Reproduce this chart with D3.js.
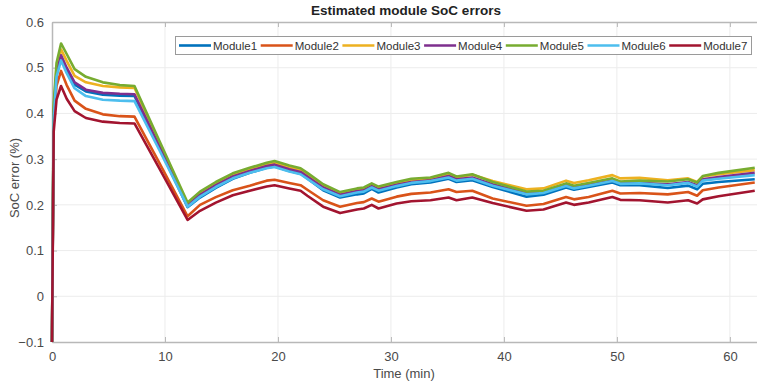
<!DOCTYPE html>
<html>
<head>
<meta charset="utf-8">
<script src="https://cdn.jsdelivr.net/npm/d3@7"></script>
<style>
  body { margin: 0; background: #fff; }
  text { font-family: "Liberation Sans", Arial, sans-serif; }
</style>
</head>
<body>
<div id="chart"></div>
<script>
// Datos
const times = [0, 0.15, 0.4, 0.8, 1.3, 2, 3, 4.5, 6, 7.3, 9.5, 12, 13.1, 14.5, 16, 17.5, 19, 19.7, 21, 22, 22.6, 24, 25.5, 27, 27.6, 28.3, 28.9, 30.5, 31.8, 33.5, 35.1, 35.8, 37.2, 39, 42, 43.5, 45.5, 46.2, 47.5, 49.6, 50.3, 52, 54.5, 56.3, 57.1, 57.6, 59, 62.2];

const module1 = [-0.1, 0.40, 0.485, 0.522, 0.495, 0.463, 0.448, 0.441, 0.439, 0.438, 0.325, 0.195, 0.216, 0.237, 0.257, 0.270, 0.281, 0.284, 0.274, 0.268, 0.258, 0.232, 0.216, 0.223, 0.225, 0.235, 0.227, 0.238, 0.245, 0.249, 0.257, 0.250, 0.254, 0.239, 0.218, 0.222, 0.238, 0.233, 0.239, 0.249, 0.243, 0.243, 0.237, 0.242, 0.234, 0.246, 0.250, 0.256];
const module2 = [-0.1, 0.38, 0.46, 0.493, 0.462, 0.428, 0.410, 0.398, 0.394, 0.393, 0.292, 0.175, 0.200, 0.217, 0.232, 0.242, 0.253, 0.255, 0.248, 0.243, 0.233, 0.210, 0.196, 0.204, 0.206, 0.214, 0.207, 0.218, 0.224, 0.227, 0.234, 0.228, 0.231, 0.214, 0.198, 0.202, 0.217, 0.212, 0.217, 0.231, 0.225, 0.226, 0.223, 0.228, 0.220, 0.232, 0.238, 0.249];
const module3 = [-0.1, 0.41, 0.50, 0.540, 0.515, 0.482, 0.468, 0.460, 0.457, 0.456, 0.335, 0.200, 0.225, 0.246, 0.265, 0.277, 0.288, 0.292, 0.282, 0.276, 0.266, 0.242, 0.225, 0.233, 0.235, 0.244, 0.237, 0.247, 0.254, 0.258, 0.267, 0.260, 0.266, 0.252, 0.234, 0.236, 0.253, 0.248, 0.254, 0.265, 0.258, 0.259, 0.254, 0.258, 0.250, 0.262, 0.267, 0.276];
const module4 = [-0.1, 0.40, 0.49, 0.527, 0.500, 0.468, 0.452, 0.445, 0.443, 0.442, 0.328, 0.198, 0.222, 0.243, 0.262, 0.274, 0.285, 0.288, 0.278, 0.272, 0.262, 0.238, 0.222, 0.230, 0.232, 0.241, 0.234, 0.244, 0.250, 0.254, 0.263, 0.256, 0.260, 0.245, 0.226, 0.228, 0.243, 0.238, 0.244, 0.253, 0.247, 0.248, 0.245, 0.250, 0.243, 0.256, 0.261, 0.270];
const module5 = [-0.1, 0.42, 0.51, 0.553, 0.530, 0.497, 0.480, 0.468, 0.462, 0.460, 0.340, 0.205, 0.229, 0.250, 0.269, 0.281, 0.292, 0.296, 0.286, 0.280, 0.270, 0.245, 0.228, 0.236, 0.238, 0.247, 0.240, 0.250, 0.257, 0.260, 0.270, 0.262, 0.267, 0.250, 0.229, 0.231, 0.247, 0.242, 0.248, 0.258, 0.251, 0.253, 0.251, 0.256, 0.249, 0.263, 0.270, 0.281];
const module6 = [-0.1, 0.39, 0.48, 0.516, 0.488, 0.455, 0.438, 0.430, 0.428, 0.427, 0.320, 0.196, 0.218, 0.239, 0.258, 0.270, 0.280, 0.283, 0.273, 0.267, 0.257, 0.234, 0.219, 0.227, 0.229, 0.238, 0.231, 0.241, 0.248, 0.252, 0.260, 0.253, 0.257, 0.242, 0.223, 0.226, 0.241, 0.236, 0.242, 0.252, 0.246, 0.247, 0.243, 0.248, 0.240, 0.253, 0.257, 0.265];
const module7 = [-0.1, 0.36, 0.43, 0.460, 0.432, 0.405, 0.390, 0.382, 0.379, 0.378, 0.280, 0.167, 0.187, 0.205, 0.221, 0.231, 0.240, 0.243, 0.236, 0.231, 0.220, 0.196, 0.182, 0.190, 0.192, 0.200, 0.192, 0.203, 0.208, 0.210, 0.216, 0.210, 0.216, 0.204, 0.187, 0.190, 0.205, 0.200, 0.205, 0.217, 0.211, 0.210, 0.205, 0.210, 0.203, 0.212, 0.219, 0.231];

const seriesNames = ['Module1', 'Module2', 'Module3', 'Module4', 'Module5', 'Module6', 'Module7'];
const seriesValues = [module1, module2, module3, module4, module5, module6, module7];
const seriesColors = ['#0072BD', '#D95319', '#EDB120', '#7E2F8E', '#77AC30', '#4DBEEE', '#A2142F'];

const xTicks = [0, 10, 20, 30, 40, 50, 60];
const yTicks = [-0.1, 0, 0.1, 0.2, 0.3, 0.4, 0.5, 0.6];

///Medidas
const W = 757, H = 384;
const margin = {top: 22, right: 0, bottom: 42, left: 52};

let svg = d3.select('#chart')
    .append('svg')
    .attr('width', W)
    .attr('height', H);

let x = d3.scaleLinear()
    .domain([0, 62.4])
    .range([margin.left, W - margin.right]);

let y = d3.scaleLinear()
    .domain([-0.1, 0.6])
    .range([H - margin.bottom, margin.top]);

//Rejilla
let grid = svg.append('g').attr('class', 'grid');
grid.selectAll('.gx')
    .data(xTicks.filter(d => d > 0))
    .enter().append('line')
    .attr('x1', d => x(d)).attr('x2', d => x(d))
    .attr('y1', y(-0.1)).attr('y2', y(0.6))
    .attr('stroke', '#ececec').attr('stroke-width', 1);
grid.selectAll('.gy')
    .data(yTicks.filter(d => d > -0.1 && d < 0.6))
    .enter().append('line')
    .attr('x1', x(0)).attr('x2', W)
    .attr('y1', d => y(d)).attr('y2', d => y(d))
    .attr('stroke', '#ececec').attr('stroke-width', 1);

//Ejes
let xAxis = svg.append('g')
    .attr('transform', 'translate(0,' + y(-0.1) + ')')
    .call(d3.axisBottom(x).tickValues(xTicks).tickSizeInner(-5).tickSizeOuter(0).tickPadding(10));

let xAxisTop = svg.append('g')
    .attr('transform', 'translate(0,' + y(0.6) + ')')
    .call(d3.axisTop(x).tickValues(xTicks).tickSizeInner(-5).tickSizeOuter(0).tickFormat(''));

let yAxis = svg.append('g')
    .attr('transform', 'translate(' + x(0) + ',0)')
    .call(d3.axisLeft(y).tickValues(yTicks).tickSizeInner(-5).tickSizeOuter(0).tickPadding(8)
        .tickFormat(d => d === 0 ? '0' : d3.format('.1f')(d)));

[xAxis, xAxisTop, yAxis].forEach(function(g) {
    g.select('.domain').attr('stroke', '#b8b8b8').attr('stroke-width', 1.5);
    g.selectAll('.tick line').attr('stroke', '#b8b8b8');
    g.selectAll('.tick text')
        .attr('fill', '#4a4a4a')
        .style('font-size', '13px');
});

//Líneas
let line = d3.line()
    .x((d, i) => x(times[i]))
    .y(d => y(d));

svg.append('g')
    .selectAll('path')
    .data(seriesValues)
    .enter().append('path')
    .attr('d', d => line(d))
    .attr('fill', 'none')
    .attr('stroke', (d, i) => seriesColors[i])
    .attr('stroke-width', 2.6)
    .attr('stroke-linejoin', 'round');

//Títulos
svg.append('text')
    .attr('x', 406).attr('y', 15)
    .attr('text-anchor', 'middle')
    .style('font-size', '13.5px').style('font-weight', 'bold')
    .attr('fill', '#222')
    .text('Estimated module SoC errors');

svg.append('text')
    .attr('x', 404).attr('y', 378)
    .attr('text-anchor', 'middle')
    .style('font-size', '13px')
    .attr('fill', '#4a4a4a')
    .text('Time (min)');

svg.append('text')
    .attr('transform', 'translate(19,178) rotate(-90)')
    .attr('text-anchor', 'middle')
    .style('font-size', '13px')
    .attr('fill', '#4a4a4a')
    .text('SoC error (%)');

//Leyenda
let legend = svg.append('g');
legend.append('rect')
    .attr('x', 175.5).attr('y', 36.5)
    .attr('width', 576).attr('height', 18)
    .attr('fill', '#fff').attr('stroke', '#9a9a9a').attr('stroke-width', 1);

let items = legend.selectAll('.item')
    .data(seriesNames)
    .enter().append('g')
    .attr('transform', (d, i) => 'translate(' + (179 + i * 81.7) + ',45.5)');

items.append('line')
    .attr('x1', 0).attr('x2', 32)
    .attr('stroke', (d, i) => seriesColors[i])
    .attr('stroke-width', 2.6);

items.append('text')
    .attr('x', 34).attr('y', 4)
    .style('font-size', '11.5px')
    .attr('fill', '#333')
    .text(d => d);
</script>
</body>
</html>
